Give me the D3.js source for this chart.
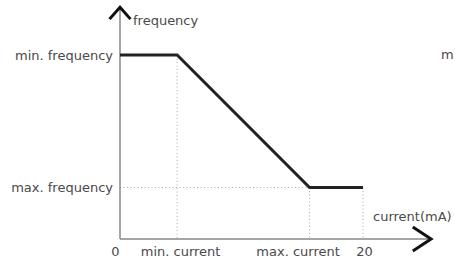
<!DOCTYPE html>
<html>
<head>
<meta charset="utf-8">
<script src="https://cdn.jsdelivr.net/npm/d3@7"></script>
<style>
  body { margin: 0; background: #fff; }
  svg { display: block; }
  text { font-family: "DejaVu Sans", sans-serif; font-size: 13px; fill: #4a4a4a; }
</style>
</head>
<body>
<script>
// current (mA) / frequency (relative level) along the curve
var currentPts = [0, 4.7, 15.6, 20];
var freqPts = [1, 1, 0.28, 0.28];

// tick marks
var xTickValues = [0, 4.7, 15.6, 20];
var xTickLabels = ["0", "min. current", "max. current", "20"];
var yTickValues = [1, 0.28];
var yTickLabels = ["min. frequency", "max. frequency"];

var W = 455, H = 262;

var svg = d3.select("body").append("svg")
        .attr("width", W)
        .attr("height", H);

// scales: 0..20 mA -> 120..363px, 0..1 -> 239..55px
var x = d3.scaleLinear().domain([0, 20]).range([120, 363]);
var y = d3.scaleLinear().domain([0, 1]).range([239, 55]);

// dotted guide lines
var guides = svg.append("g")
        .attr("stroke", "#aaa")
        .attr("stroke-width", 1)
        .attr("stroke-dasharray", "1,2.5");

guides.append("line")   // horizontal at max frequency
        .attr("x1", x(0)).attr("x2", x(currentPts[2]))
        .attr("y1", y(freqPts[2])).attr("y2", y(freqPts[2]));

[1, 2, 3].forEach(function(i) {
    guides.append("line")
        .attr("x1", x(currentPts[i])).attr("x2", x(currentPts[i]))
        .attr("y1", y(freqPts[i])).attr("y2", y(0));
});

// axis lines
svg.append("line")
        .attr("x1", x(0)).attr("x2", x(25.6))
        .attr("y1", y(0)).attr("y2", y(0))
        .attr("stroke", "#888").attr("stroke-width", 1.5);
svg.append("line")
        .attr("x1", x(0)).attr("x2", x(0))
        .attr("y1", y(0)).attr("y2", y(1.26))
        .attr("stroke", "#888").attr("stroke-width", 1.5);

// arrow heads
svg.append("path")
        .attr("d", "M" + (x(0) - 10.5) + "," + y(1.195) + "L" + x(0) + "," + y(1.26) + "L" + (x(0) + 10.5) + "," + y(1.195))
        .attr("fill", "none").attr("stroke", "#111").attr("stroke-width", 3);
svg.append("path")
        .attr("d", "M" + x(24.1) + "," + (y(0) - 12) + "L" + x(25.6) + "," + y(0) + "L" + x(24.1) + "," + (y(0) + 12))
        .attr("fill", "none").attr("stroke", "#111").attr("stroke-width", 3);

// the curve
var line = d3.line()
        .x(function(d) { return x(d[0]); })
        .y(function(d) { return y(d[1]); });

svg.append("path")
        .datum(d3.zip(currentPts, freqPts))
        .attr("d", line)
        .attr("fill", "none")
        .attr("stroke", "#222")
        .attr("stroke-width", 3)
        .attr("stroke-linejoin", "miter");

// x tick labels
var xAxis = d3.axisBottom(x)
        .tickValues(xTickValues)
        .tickFormat(function(d, i) { return xTickLabels[i]; })
        .tickSize(0)
        .tickPadding(8);
var gx = svg.append("g")
        .attr("transform", "translate(0," + y(0) + ")")
        .call(xAxis);
gx.select(".domain").remove();
var xShift = [-5, 3, -12, 1];
gx.selectAll("text")
        .attr("dx", function(d, i) { return xShift[i]; });

// y tick labels
var yAxis = d3.axisLeft(y)
        .tickValues(yTickValues)
        .tickFormat(function(d, i) { return yTickLabels[i]; })
        .tickSize(0)
        .tickPadding(7);
var gy = svg.append("g")
        .attr("transform", "translate(" + x(0) + ",0)")
        .call(yAxis);
gy.select(".domain").remove();

svg.selectAll(".tick text")
        .attr("font-family", null)
        .attr("font-size", null)
        .attr("fill", "#4a4a4a");

// axis titles
svg.append("text")
        .attr("x", 133).attr("y", 25)
        .text("frequency");
svg.append("text")
        .attr("x", 373).attr("y", 221)
        .text("current(mA)");

// first letter of the neighbouring chart's label, at the right edge
svg.append("text")
        .attr("x", 441).attr("y", 59)
        .text("m");
</script>
</body>
</html>
